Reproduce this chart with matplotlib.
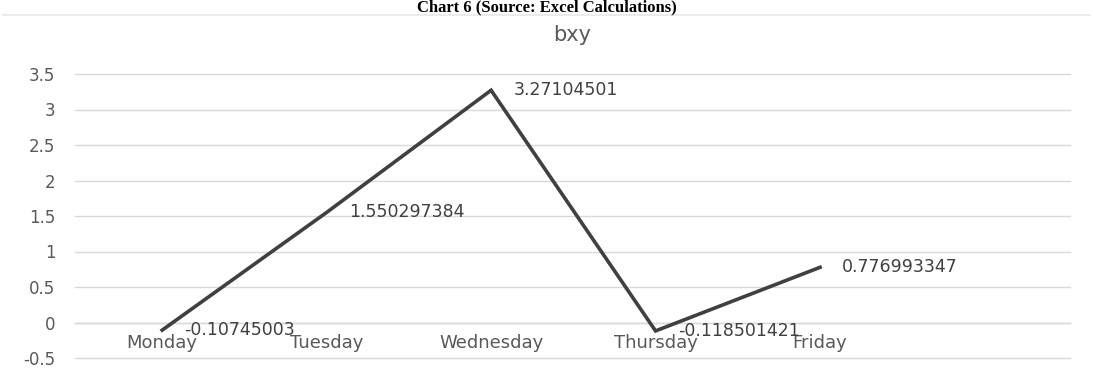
import matplotlib
matplotlib.use("Agg")
import matplotlib.pyplot as plt
from matplotlib.lines import Line2D

# Data
days = ["Monday", "Tuesday", "Wednesday", "Thursday", "Friday"]
bxy = [-0.10745003, 1.550297384, 3.27104501, -0.118501421, 0.776993347]
bxy_labels = ["-0.10745003", "1.550297384", "3.27104501", "-0.118501421", "0.776993347"]
y_ticks = [-0.5, 0, 0.5, 1, 1.5, 2, 2.5, 3, 3.5]
y_tick_labels = ["-0.5", "0", "0.5", "1", "1.5", "2", "2.5", "3", "3.5"]

plt.rcParams["font.family"] = ["DejaVu Sans"]

W, H = 1093, 375
fig = plt.figure(figsize=(W / 100, H / 100), dpi=100)
fig.patch.set_facecolor("white")

# Caption above the chart box
fig.text(0.5, 1 - 11 / H, "Chart 6 (Source: Excel Calculations)",
         ha="center", va="baseline", fontsize=12, fontweight="bold",
         family="Liberation Serif", color="black")
fig.add_artist(Line2D([3 / W, 1090 / W], [1 - 15 / H, 1 - 15 / H],
                      transform=fig.transFigure, color="#e8e8e8", lw=1.2))

ax = fig.add_axes([75 / W, 17 / H, 995 / W, 284 / H])
x = list(range(len(days)))

ax.plot(x, bxy, color="#404040", lw=2.6, solid_joinstyle="miter", zorder=3)

for xi, yi, lab in zip(x, bxy, bxy_labels):
    ax.annotate(lab, (xi, yi), xytext=(16, 0), textcoords="offset points",
                ha="left", va="center", fontsize=12.5, color="#404040")

ax.set_xlim(-0.53, 5.52)
ax.set_ylim(-0.5, 3.5)
ax.set_yticks(y_ticks)
ax.set_yticklabels(y_tick_labels)
ax.set_xticks(x)
ax.set_xticklabels(days)

ax.grid(axis="y", color="#d9d9d9", lw=1)
for gl in ax.get_ygridlines():
    gl.set_clip_on(False)
ax.set_axisbelow(True)
for side in ["top", "right", "left"]:
    ax.spines[side].set_visible(False)
ax.spines["bottom"].set_position(("data", 0))
ax.spines["bottom"].set_color("#d9d9d9")
ax.spines["bottom"].set_linewidth(1)

ax.tick_params(axis="y", length=0, pad=14, labelsize=12, labelcolor="#595959")
ax.tick_params(axis="x", length=0, pad=8, labelsize=13, labelcolor="#595959")

ax.set_title("bxy", fontsize=15, color="#595959", pad=24)

fig.savefig("out.png", dpi=100)
